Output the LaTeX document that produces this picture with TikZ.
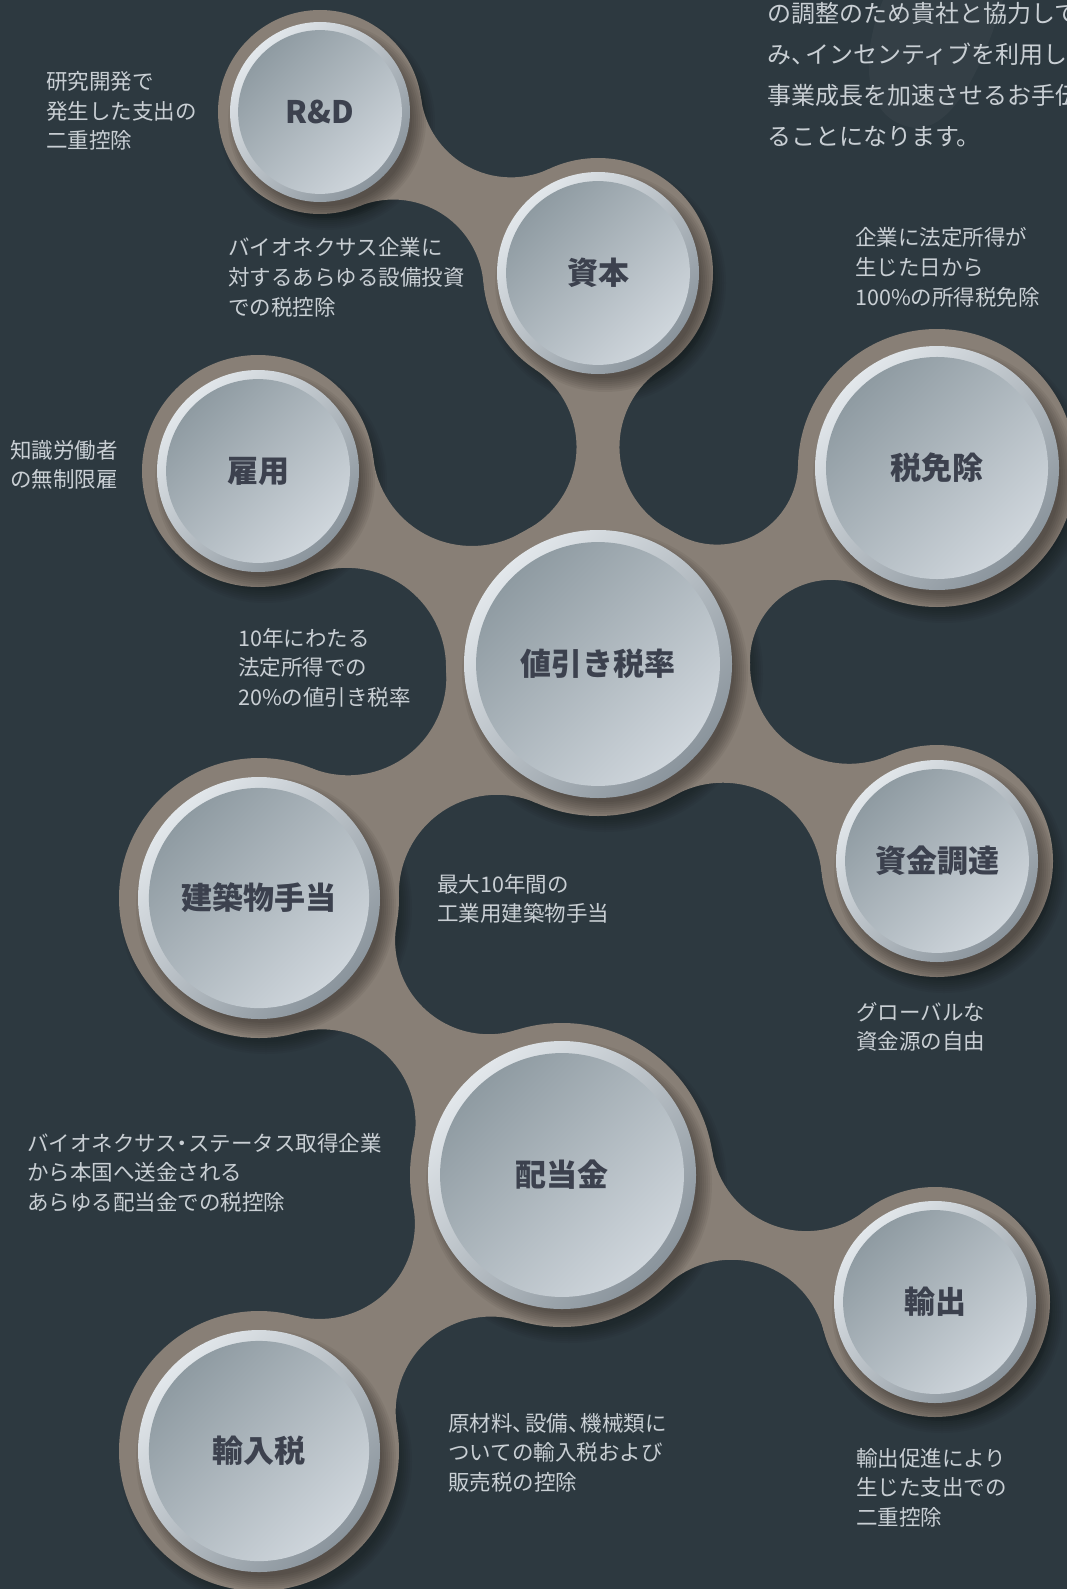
\documentclass[tikz,border=0pt]{standalone}
\usepackage{fontspec}
\setmainfont{Noto Sans CJK JP}
\usetikzlibrary{calc}
\definecolor{bgc}{RGB}{45,57,64}
\definecolor{blobc}{RGB}{136,127,118}
\definecolor{rimL}{RGB}{226,231,235}
\definecolor{rimD}{RGB}{138,148,156}
\definecolor{faceD}{RGB}{143,155,162}
\definecolor{faceM}{RGB}{186,193,200}
\definecolor{faceL}{RGB}{207,214,220}
\definecolor{lblc}{RGB}{60,65,78}
\definecolor{txtc}{RGB}{201,207,212}
\newcommand\lines[1]{\begin{tabular}[t]{@{}l@{}}#1\end{tabular}}
\newcommand\tc{、\kern-0.42em}
\newcommand\neck[7]{%
 \edef\nD{\fpeval{sqrt(((#4)-(#1))^2+((#5)-(#2))^2)}}%
 \edef\nM{\fpeval{((#3)+(#6))/2}}%
 \edef\nR{\fpeval{((\nD/2)^2+(#7)^2-(\nM)^2)/(2*((\nM)-(#7)))}}%
 \edef\nA{\fpeval{(#3)+\nR}}%
 \edef\nB{\fpeval{(#6)+\nR}}%
 \edef\nT{\fpeval{(\nA^2-\nB^2+\nD^2)/(2*\nD)}}%
 \edef\nH{\fpeval{sqrt(\nA^2-\nT^2)}}%
 \edef\nUx{\fpeval{((#4)-(#1))/\nD}}%
 \edef\nUy{\fpeval{((#5)-(#2))/\nD}}%
 \edef\cAx{\fpeval{(#1)+\nT*\nUx-\nH*\nUy}}%
 \edef\cAy{\fpeval{(#2)+\nT*\nUy+\nH*\nUx}}%
 \edef\cBx{\fpeval{(#1)+\nT*\nUx+\nH*\nUy}}%
 \edef\cBy{\fpeval{(#2)+\nT*\nUy-\nH*\nUx}}%
 \edef\pAx{\fpeval{round((#1)+(#3)/\nA*(\cAx-(#1)),3)}}%
 \edef\pAy{\fpeval{round((#2)+(#3)/\nA*(\cAy-(#2)),3)}}%
 \edef\qBx{\fpeval{round((#4)+(#6)/\nB*(\cBx-(#4)),3)}}%
 \edef\qBy{\fpeval{round((#5)+(#6)/\nB*(\cBy-(#5)),3)}}%
 \edef\sA{\fpeval{-atand((#2)-\cAy,(#1)-\cAx)}}%
 \edef\eA{\fpeval{-atand((#5)-\cAy,(#4)-\cAx)}}%
 \edef\dA{\fpeval{\eA-\sA}}%
 \edef\dA{\fpeval{round(\dA>180 ? \dA-360 : (\dA<-180 ? \dA+360 : \dA),3)}}%
 \edef\sB{\fpeval{-atand((#5)-\cBy,(#4)-\cBx)}}%
 \edef\eB{\fpeval{-atand((#2)-\cBy,(#1)-\cBx)}}%
 \edef\dB{\fpeval{\eB-\sB}}%
 \edef\dB{\fpeval{round(\dB>180 ? \dB-360 : (\dB<-180 ? \dB+360 : \dB),3)}}%
 \edef\sA{\fpeval{round(\sA,3)}}\edef\sB{\fpeval{round(\sB,3)}}\edef\nRr{\fpeval{round(\nR,3)}}%
 \fill[blobc] (\pAx,\pAy) arc[start angle=\sA, delta angle=\dA, radius=\nRr pt] -- (\qBx,\qBy) arc[start angle=\sB, delta angle=\dB, radius=\nRr pt] -- cycle;%
}
\tikzset{
  circlbl/.style={inner sep=0, text=lblc, font=\fontsize{31}{31}\selectfont\bfseries},
  desc/.style={anchor=base west, inner sep=0, text=txtc, font=\fontsize{21.5}{29.5}\selectfont},
  intro/.style={anchor=base west, inner sep=0, text=txtc, font=\fontsize{24}{41}\selectfont},
}
\begin{document}
\begin{tikzpicture}[x=1pt,y=-1pt]
\useasboundingbox (0,0) rectangle (1067,1589);
\fill[bgc] (0,0) rectangle (1067,1589);
\fill[white,opacity=0.035] (883,0) .. controls (862,50) and (858,120) .. (915,128) .. controls (955,130) and (985,60) .. (1003,0) -- cycle;
% centres
\coordinate (cRD) at (320,112);
\coordinate (cSH) at (598,273);
\coordinate (cKO) at (258,471);
\coordinate (cZM) at (937,468);
\coordinate (cNE) at (598,664);
\coordinate (cSK) at (937,861);
\coordinate (cKC) at (259,898);
\coordinate (cHI) at (562,1175);
\coordinate (cYU) at (935,1302);
\coordinate (cYN) at (259,1451);
% blob shadows on the background
\foreach \c/\r in {cRD/102,cSH/115,cKO/116,cZM/139,cNE/152,cSK/116,cKC/140,cHI/152,cYU/115,cYN/140}{
  \foreach \k in {1,...,7}{\fill[black,opacity=0.04] ($(\c)+(7,10)$) circle[radius={(\r+8-2*\k)*1pt}];}
}
% blob
\foreach \c/\r in {cRD/102,cSH/115,cKO/116,cZM/139,cNE/152,cSK/116,cKC/140,cHI/152,cYU/115,cYN/140}{
  \fill[blobc] (\c) circle[radius={\r*1pt}];
}
\neck{320}{112}{102}{598}{273}{115}{27}
\neck{598}{273}{115}{598}{664}{152}{22}
\neck{258}{471}{116}{598}{664}{152}{28}
\neck{937}{468}{139}{598}{664}{152}{33}
\neck{598}{664}{152}{937}{861}{116}{27}
\neck{598}{664}{152}{259}{898}{140}{33}
\neck{259}{898}{140}{562}{1175}{152}{30}
\neck{562}{1175}{152}{935}{1302}{115}{21}
\neck{562}{1175}{152}{259}{1451}{140}{32}
% silver shadows on the blob
\foreach \c/\r in {cRD/90,cSH/101,cKO/101,cZM/122,cNE/134,cSK/101,cKC/121,cHI/134,cYU/101,cYN/121}{
  \foreach \k in {1,...,8}{\fill[black,opacity=0.05] ($(\c)+(7,9)$) circle[radius={(\r+11-2*\k)*1pt}];}
}
% silver discs
\foreach \c/\r in {cRD/90,cSH/101,cKO/101,cZM/122,cNE/134,cSK/101,cKC/121,cHI/134,cYU/101,cYN/121}{
  \shade[top color=rimL, bottom color=rimD, shading angle=45] (\c) circle[radius={\r*1pt}];
  \shade[top color=faceD, middle color=faceM, bottom color=faceL, shading angle=45] (\c) circle[radius={0.91*\r*1pt}];
}
% labels
\node[circlbl] (lRD) at (cRD) {R\&D};
\node[circlbl] (lSH) at (cSH) {資本};
\node[circlbl] (lKO) at (cKO) {雇用};
\node[circlbl] (lZM) at (cZM) {税免除};
\node[circlbl] (lNE) at (cNE) {値引き税率};
\node[circlbl] (lSK) at (cSK) {資金調達};
\node[circlbl] (lKC) at (cKC) {建築物手当};
\node[circlbl] (lHI) at (cHI) {配当金};
\node[circlbl] (lYU) at (cYU) {輸出};
\node[circlbl] (lYN) at (cYN) {輸入税};
% descriptions
\node[intro] (tIntro) at (767,23) {\lines{の調整のため貴社と協力して\\み\tc インセンティブを利用して\\事業成長を加速させるお手伝\\ることになります。}};
\node[desc] (dRD) at (46,90) {\lines{研究開発で\\発生した支出の\\二重控除}};
\node[desc] (dSH) at (228,256) {\lines{バイオネクサス企業に\\対するあらゆる設備投資\\での税控除}};
\node[desc] (dZM) at (855,246) {\lines{企業に法定所得が\\生じた日から\\100\%の所得税免除}};
\node[desc] (dKO) at (10,458) {\lines{知識労働者\\の無制限雇}};
\node[desc] (dNE) at (238,646) {\lines{10年にわたる\\法定所得での\\20\%の値引き税率}};
\node[desc] (dKC) at (437,892) {\lines{最大10年間の\\工業用建築物手当}};
\node[desc] (dSK) at (856,1020) {\lines{グローバルな\\資金源の自由}};
\node[desc] (dHI) at (27,1151) {\lines{バイオネクサス\kern-0.25em・\kern-0.25emステータス取得企業\\から本国へ送金される\\あらゆる配当金での税控除}};
\node[desc] (dYN) at (448,1431) {\lines{原材料\tc 設備\tc 機械類に\\ついての輸入税および\\販売税の控除}};
\node[desc] (dYU) at (856,1466) {\lines{輸出促進により\\生じた支出での\\二重控除}};
\end{tikzpicture}
\end{document}
